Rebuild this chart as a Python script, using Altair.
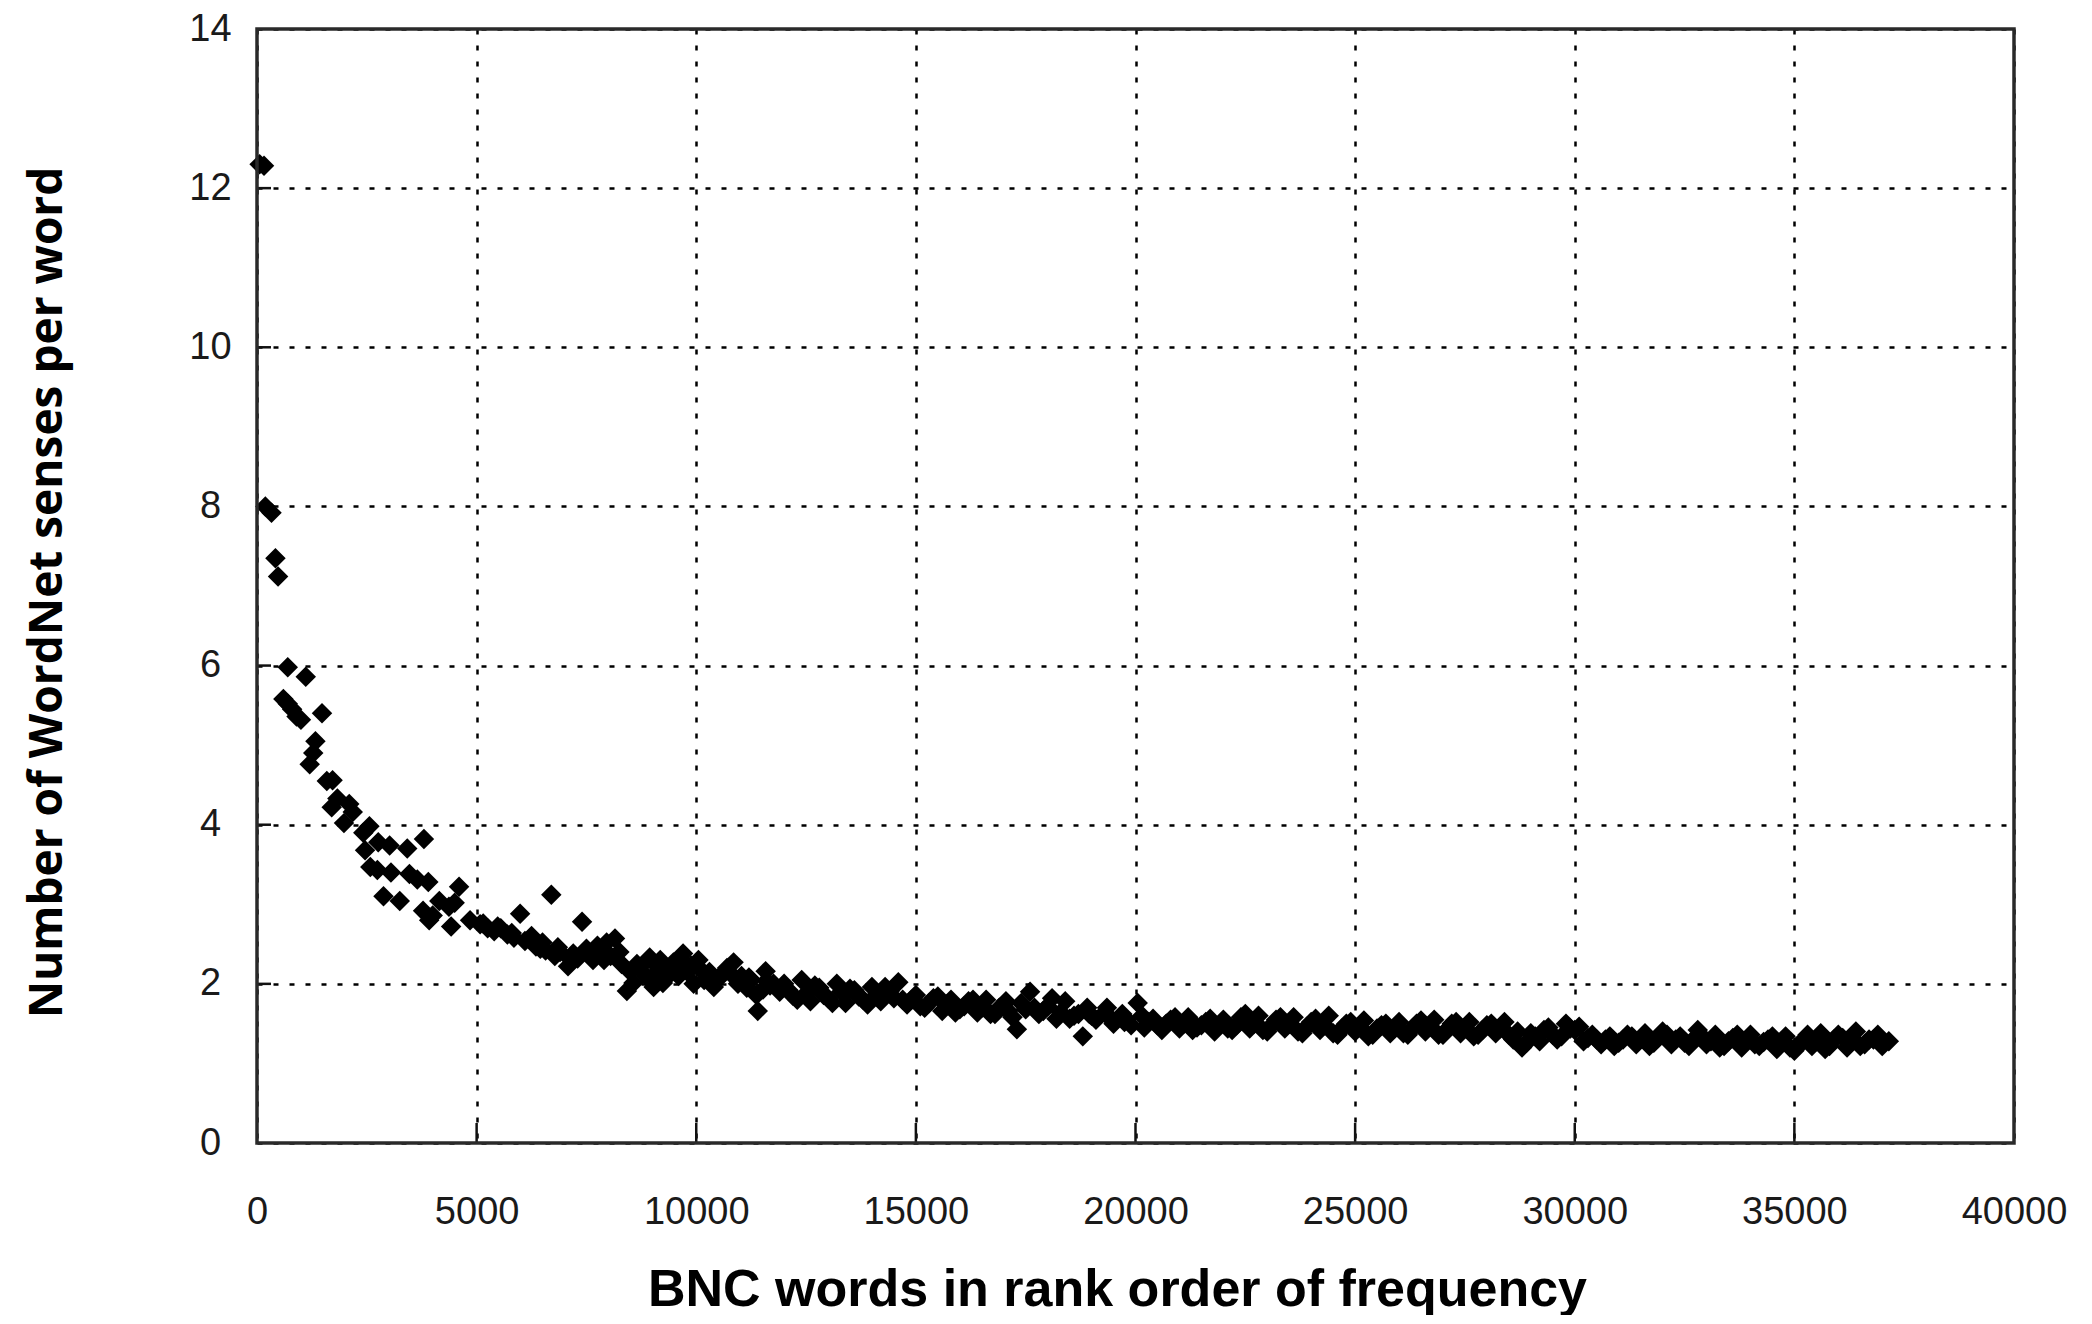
import altair as alt
import pandas as pd

# ---- data (rank, mean WordNet senses) ----
rank_a = [60, 160, 190, 330, 420, 480, 700, 1110, 600, 700, 800, 900, 1000, 1480,
          1330, 1280, 1200, 1590, 1720, 1700, 1830, 2100, 2180, 1980, 2420, 2560,
          2460, 2760, 3020, 3420, 3800, 2580, 2740, 3050, 3470, 3650, 3900, 4600,
          2880, 3250, 3780, 4000, 4150, 4370, 4500, 3920, 4420, 4850, 5080]
sens_a = [12.30, 12.28, 8.00, 7.92, 7.35, 7.12, 5.98, 5.86, 5.58, 5.52, 5.45, 5.36, 5.32, 5.40,
          5.05, 4.90, 4.76, 4.55, 4.56, 4.22, 4.33, 4.26, 4.16, 4.02, 3.90, 3.98,
          3.68, 3.78, 3.74, 3.70, 3.82, 3.47, 3.43, 3.40, 3.38, 3.31, 3.28, 3.22,
          3.10, 3.04, 2.92, 2.86, 3.04, 2.97, 3.02, 2.80, 2.72, 2.80, 2.75]

rank_b = [5250, 5400, 5550, 5700, 5850, 5990, 6100, 6250, 6350, 6500, 6570, 6700, 6780,
          6900, 7080, 7200, 7400, 7300, 7570, 7650, 7750, 7850, 7960, 8150, 8050, 8300,
          8420, 8570, 8500, 8720, 8850, 8940, 9030, 9100, 9180, 9240, 9350, 9480, 9600,
          9700, 9800, 9880, 9940, 10050, 10180, 10300, 10400, 10550, 10700, 10850, 10950,
          11030, 11150, 11250, 11370, 11400, 11520, 11580, 11680, 11760, 11900]
sens_b = [2.70, 2.66, 2.70, 2.62, 2.58, 2.88, 2.54, 2.60, 2.47, 2.52, 2.42, 3.12, 2.35,
          2.40, 2.22, 2.38, 2.78, 2.32, 2.37, 2.30, 2.48, 2.40, 2.52, 2.57, 2.35, 2.25,
          1.91, 2.01, 2.15, 2.21, 2.10, 2.33, 1.96, 2.15, 2.30, 2.01, 2.20, 2.27, 2.10,
          2.38, 2.15, 2.23, 2.00, 2.30, 2.05, 2.15, 1.96, 2.10, 2.20, 2.27, 2.00,
          2.10, 1.95, 2.05, 1.86, 1.66, 1.93, 2.16, 1.98, 2.00, 1.90]

rank_c = [12000, 12200, 12400, 12600, 12800, 13000, 13200, 13400, 13600, 13800, 14000,
          14200, 14400, 14600, 14800, 15000, 15200, 15400, 15600, 15800, 16000, 16200,
          16400, 16600, 16800, 17000, 17200, 17300, 17400, 17600, 17800, 18000, 18200,
          18400, 18600, 18800, 18900, 19100, 19300, 19500, 19700, 19900, 20050, 20200,
          20400, 20600, 20800, 21000, 21200, 21400, 21600, 21800, 22000, 22200, 22400,
          22600, 22800, 23000, 23200, 23400, 23600, 23800, 24000, 24200, 24400, 24600,
          24800, 25000, 25200, 25400, 25600, 25800, 26000, 26200, 26400, 26600, 26800,
          27000, 27200, 27400, 27600, 27800, 28000, 28200, 28400, 28600, 28800, 29000,
          29200, 29400, 29600, 29800, 30000, 30200, 30400, 30600, 30800, 31000, 31200,
          31400, 31600, 31800, 32000, 32200, 32400, 32600, 32800, 33000, 33200, 33400,
          33600, 33800, 34000, 34200, 34400, 34600, 34800, 35000, 35200, 35400, 35600,
          35800, 36000, 36200, 36400, 36600, 36800, 37000, 37150]
sens_c = [2.00, 1.85, 2.05, 1.78, 1.95, 1.82, 2.00, 1.76, 1.92, 1.80, 1.96,
          1.78, 1.90, 2.02, 1.74, 1.86, 1.70, 1.82, 1.66, 1.80, 1.68, 1.78,
          1.64, 1.80, 1.62, 1.74, 1.58, 1.43, 1.76, 1.90, 1.62, 1.72, 1.56,
          1.78, 1.60, 1.34, 1.70, 1.55, 1.64, 1.50, 1.62, 1.48, 1.76, 1.45,
          1.56, 1.42, 1.55, 1.44, 1.58, 1.45, 1.52, 1.40, 1.55, 1.42, 1.58,
          1.44, 1.60, 1.40, 1.55, 1.44, 1.58, 1.38, 1.52, 1.42, 1.60, 1.36,
          1.50, 1.40, 1.54, 1.36, 1.48, 1.38, 1.52, 1.36, 1.50, 1.40, 1.55,
          1.36, 1.50, 1.38, 1.52, 1.36, 1.48, 1.38, 1.52, 1.30, 1.20, 1.38,
          1.28, 1.45, 1.30, 1.50, 1.42, 1.28, 1.36, 1.24, 1.34, 1.26, 1.36,
          1.24, 1.38, 1.26, 1.40, 1.24, 1.34, 1.22, 1.42, 1.24, 1.36, 1.22,
          1.32, 1.20, 1.36, 1.22, 1.30, 1.18, 1.34, 1.16, 1.28, 1.22, 1.38,
          1.22, 1.36, 1.20, 1.40, 1.24, 1.30, 1.22, 1.28]

# in-between points that thicken the dense band
rank_d = [12100, 12500, 12900, 13300, 13700, 14100, 14500, 14900, 15300, 15700, 16100,
          16500, 16900, 17100, 17500, 17900, 18300, 18700, 19000, 19400, 19800, 20300,
          20700, 21100, 21500, 21900, 22300, 22700, 23100, 23500, 23900, 24300, 24700,
          25100, 25500, 25900, 26300, 26700, 27100, 27500, 27900, 28300, 28700, 29100,
          29500, 29900, 30300, 30700, 31100, 31500, 31900, 32300, 32700, 33100, 33500,
          33900, 34300, 34700, 35100, 35500, 35900, 36300, 36700, 37050]
sens_d = [1.92, 1.88, 1.86, 1.90, 1.84, 1.86, 1.82, 1.80, 1.76, 1.74, 1.72,
          1.70, 1.70, 1.66, 1.68, 1.66, 1.64, 1.62, 1.60, 1.58, 1.55, 1.52,
          1.50, 1.50, 1.48, 1.47, 1.48, 1.50, 1.48, 1.50, 1.46, 1.48, 1.44,
          1.46, 1.44, 1.44, 1.44, 1.46, 1.43, 1.44, 1.42, 1.44, 1.40, 1.34,
          1.36, 1.44, 1.32, 1.30, 1.30, 1.31, 1.32, 1.30, 1.30, 1.28, 1.28,
          1.28, 1.27, 1.26, 1.24, 1.28, 1.30, 1.30, 1.30, 1.26]

# extra points in the thick 5000-12000 mass
rank_e = [5150, 5480, 5800, 6200, 6450, 6850, 7150, 7500, 7900, 8250, 8650, 9000,
          9400, 9750, 10100, 10480, 10800, 11200, 11600]
sens_e = [2.76, 2.72, 2.64, 2.56, 2.44, 2.46, 2.30, 2.44, 2.30, 2.40, 2.25, 2.28,
          2.12, 2.25, 2.18, 2.05, 2.12, 2.08, 2.04]

# further scatter along the tail
rank_f = [12300, 12700, 13100, 13500, 13900, 14300, 14700, 15100, 15500, 15900, 16300,
          16700, 17050, 17700, 18100, 18500, 18950, 19350, 19750, 20150, 20500, 20900,
          21300, 21700, 22100, 22500, 22900, 23300, 23700, 24100, 24500, 24900, 25300,
          25700, 26100, 26500, 26900, 27300, 27700, 28100, 28500, 28900, 29300, 29700,
          30100, 30500, 30900, 31300, 31700, 32100, 32500, 32900, 33300, 33700, 34100,
          34500, 34900, 35300, 35700, 36100, 36500, 36900]
sens_f = [1.80, 1.98, 1.76, 1.94, 1.74, 1.96, 1.80, 1.72, 1.84, 1.64, 1.80,
          1.62, 1.78, 1.70, 1.82, 1.56, 1.62, 1.70, 1.52, 1.60, 1.48, 1.58,
          1.42, 1.56, 1.44, 1.62, 1.42, 1.58, 1.40, 1.56, 1.38, 1.52, 1.34,
          1.50, 1.38, 1.54, 1.36, 1.52, 1.34, 1.50, 1.36, 1.26, 1.42, 1.34,
          1.46, 1.30, 1.22, 1.34, 1.22, 1.36, 1.26, 1.34, 1.20, 1.36, 1.24,
          1.34, 1.20, 1.36, 1.18, 1.32, 1.22, 1.36]

x_ticks = [5000, 10000, 15000, 20000, 25000, 30000, 35000]
y_ticks = [2, 4, 6, 8, 10, 12]

x_title = "BNC words in rank order of frequency"
y_title = "Number of WordNet senses per word"

W, H = 1757, 1114

df = pd.DataFrame({
    "rank": rank_a + rank_b + rank_c + rank_d + rank_e + rank_f,
    "senses": sens_a + sens_b + sens_c + sens_d + sens_e + sens_f,
})

xscale = alt.Scale(domain=[0, 40000], nice=False)
yscale = alt.Scale(domain=[0, 14], nice=False)

x_axis = alt.Axis(
    title=x_title, values=[0, 5000, 10000, 15000, 20000, 25000, 30000, 35000, 40000],
    format="d", grid=True, gridColor="#000000", gridDash=[5, 11], gridWidth=2.5,
    domain=False, ticks=False, labelFont="Liberation Sans", labelFontSize=38,
    labelColor="#1a1a1a", labelPadding=50, labelFlush=False,
    titleFont="Liberation Sans", titleFontSize=52, titleFontWeight="bold",
    titleColor="#000000", titleX=860, titleY=162, titleBaseline="alphabetic",
    titleAnchor="middle",
)
y_axis = alt.Axis(
    title=y_title, values=[0, 2, 4, 6, 8, 10, 12, 14], format="d",
    grid=True, gridColor="#000000", gridDash=[5, 11], gridWidth=2.5,
    domain=False, ticks=False, labelFont="Liberation Sans", labelFontSize=38,
    labelColor="#1a1a1a", labelPadding=47, labelAlign="center",
    labelBaseline="middle", labelFlush=False,
    titleFont="Open Sans", titleFontSize=46, titleFontWeight="bold",
    titleColor="#000000", titleAngle=270, titleX=-210, titleY=563,
    titleBaseline="middle", titleAlign="center",
)

points = alt.Chart(df).mark_point(
    shape="diamond", filled=True, color="#000000", opacity=1, size=420
).encode(
    x=alt.X("rank:Q", scale=xscale, axis=x_axis),
    y=alt.Y("senses:Q", scale=yscale, axis=y_axis),
)

xt = alt.Chart(pd.DataFrame({"t": x_ticks})).mark_rule(
    color="#111111", strokeWidth=2.5
).encode(
    x=alt.X("t:Q", scale=xscale), y=alt.value(H - 20), y2=alt.value(H)
)
yt = alt.Chart(pd.DataFrame({"t": y_ticks})).mark_rule(
    color="#111111", strokeWidth=2.5
).encode(
    y=alt.Y("t:Q", scale=yscale), x=alt.value(0), x2=alt.value(14)
)

frame = alt.Chart(pd.DataFrame({"f": [0]})).mark_rect(
    fill=None, fillOpacity=0, stroke="#2a2a2a", strokeWidth=3.5
).encode(
    x=alt.value(0), x2=alt.value(W), y=alt.value(0), y2=alt.value(H)
)

chart = alt.layer(xt, yt, points, frame).properties(
    width=W, height=H,
    autosize=alt.AutoSizeParams(type="none"),
    padding={"left": 249, "top": 21, "right": 58, "bottom": 172},
).configure_view(
    strokeWidth=0
).configure(background="white")

chart.save("out.html", embed_options={"renderer": "svg", "actions": False})
